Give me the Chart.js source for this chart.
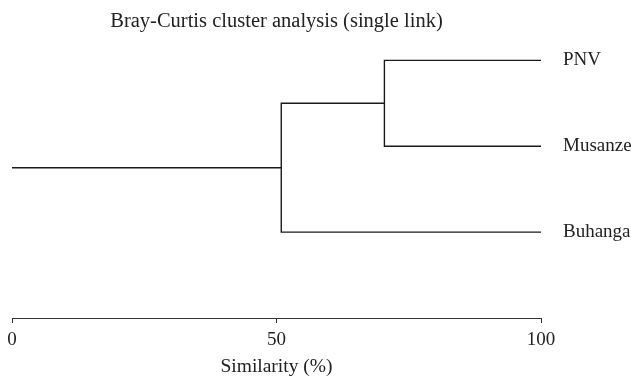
<!DOCTYPE html>
<html>
<head>
<meta charset="utf-8">
<title>Bray-Curtis cluster analysis</title>
<script src="https://cdn.jsdelivr.net/npm/chart.js@4.4.1/dist/chart.umd.min.js"></script>
<style>
    html, body { margin: 0; padding: 0; background: #ffffff; }
    #wrap { width: 631px; height: 383px; position: relative; }
</style>
</head>
<body>
<div id="wrap"><canvas id="dendro"></canvas></div>
<script>
// Dendrogram data: leaves top to bottom, and the similarity (%) at each join
const leafNames = ['PNV', 'Musanze', 'Buhanga'];
const leafRows = [1, 2, 3];
const joinLevels = [70.4, 50.9];   // PNV+Musanze first, then Buhanga joins
const xTicks = [0, 50, 100];

const inkColor = '#1a1a1a';
const textColor = '#222222';
const serif = "'Liberation Serif', 'DejaVu Serif', serif";

// Build the bracket paths from the data
function buildBranches() {
    const top = leafRows[0], mid = leafRows[1], low = leafRows[2];
    const firstStem = (top + mid) / 2;
    const rootStem = (firstStem + low) / 2;
    return [
        // PNV + Musanze bracket
        [{x: 100, y: top}, {x: joinLevels[0], y: top}, {x: joinLevels[0], y: mid}, {x: 100, y: mid}],
        // that pair joined with Buhanga
        [{x: joinLevels[0], y: firstStem}, {x: joinLevels[1], y: firstStem}, {x: joinLevels[1], y: low}, {x: 100, y: low}],
        // root stem
        [{x: joinLevels[1], y: rootStem}, {x: 0, y: rootStem}]
    ];
}

Chart.defaults.font.family = serif;
Chart.defaults.color = textColor;

const ctx = document.getElementById('dendro').getContext('2d');
new Chart(ctx, {
    type: 'scatter',
    data: {
        datasets: buildBranches().map(path => ({
            data: path,
            showLine: true,
            borderColor: inkColor,
            borderWidth: 1.4,
            pointRadius: 0,
            pointHoverRadius: 0,
            fill: false,
            tension: 0
        }))
    },
    options: {
        responsive: true,
        maintainAspectRatio: false,
        animation: false,
        layout: { padding: { left: 12, right: 0, top: 0, bottom: 0 } },
        plugins: {
            legend: { display: false },
            tooltip: { enabled: false },
            title: {
                display: true,
                text: 'Bray-Curtis cluster analysis (single link)',
                fullSize: false,
                color: textColor,
                font: { size: 20.5, weight: 'normal' },
                padding: { top: 9, bottom: 1 }
            }
        },
        scales: {
            x: {
                type: 'linear',
                min: 0,
                max: 100,
                afterBuildTicks: scale => { scale.ticks = xTicks.map(v => ({ value: v })); },
                afterFit: scale => { scale.height = 65; },
                grid: { drawOnChartArea: false, drawTicks: true, tickLength: 5, color: '#333' },
                border: { display: true, color: '#333', width: 1 },
                ticks: { padding: 6, color: textColor, font: { size: 19 }, maxRotation: 0 },
                title: {
                    display: true,
                    text: 'Similarity (%)',
                    color: textColor,
                    font: { size: 19.5 },
                    padding: { top: 4, bottom: 4 }
                }
            },
            y: {
                type: 'linear',
                position: 'right',
                reverse: true,
                min: 0.7,
                max: 4,
                afterBuildTicks: scale => { scale.ticks = leafRows.map(v => ({ value: v })); },
                afterFit: scale => { scale.width = 90; },
                grid: { display: false },
                border: { display: false },
                ticks: {
                    padding: 14,
                    color: textColor,
                    font: { size: 19 },
                    callback: value => leafNames[leafRows.indexOf(value)]
                }
            }
        }
    }
});
</script>
</body>
</html>
